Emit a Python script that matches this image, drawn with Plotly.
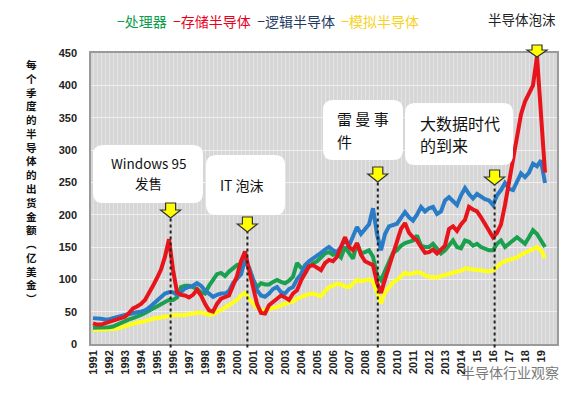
import plotly.graph_objects as go

# ---------------- data (quarterly, 1991Q1 .. 2019Q2) ----------------
start_year = 1991
processor = [  # green 处理器
    25, 25, 26, 25, 26, 27, 30, 33, 36, 38, 40, 42, 45, 48, 52, 55,
    58, 62, 65, 68, 68, 72, 88, 90, 90, 88, 85, 80, 78, 90, 100, 108,
    110, 105, 112, 117, 122, 124, 127, 118, 100, 88, 94, 92, 92, 96, 99, 96,
    94, 98, 104, 125, 118, 115, 120, 125, 128, 134, 140, 142, 138, 140, 134, 150,
    140, 132, 156, 140, 142, 145, 135, 106, 99, 112, 125, 141, 145, 152, 156, 158,
    160, 168, 152, 150, 150, 155, 148, 140, 145, 152, 160, 150, 148, 160, 158, 152,
    155, 150, 148, 145, 145, 155, 160, 150, 155, 161, 165, 160, 155, 165, 176, 170,
    160, 150]
memory = [  # red 存储半导体
    32, 30, 30, 32, 33, 35, 37, 40, 42, 48, 55, 58, 62, 68, 78, 90,
    102, 115, 135, 162, 115, 80, 76, 75, 72, 76, 84, 75, 62, 52, 50, 62,
    70, 72, 75, 90, 105, 128, 143, 115, 90, 62, 48, 47, 60, 65, 70, 75,
    72, 68, 78, 83, 98, 110, 120, 122, 118, 114, 125, 130, 128, 135, 150, 165,
    150, 145, 156, 138, 128, 125, 122, 95, 79, 100, 120, 135, 160, 178, 187, 172,
    165, 160, 150, 141, 142, 146, 140, 145, 152, 178, 182, 175, 185, 192, 212, 208,
    205, 196, 185, 176, 165, 172, 185, 215, 250, 284, 320, 355, 375, 388, 400, 445,
    350, 265]
logic = [  # blue 逻辑半导体
    40, 40, 39, 38, 38, 40, 42, 44, 45, 46, 48, 49, 50, 52, 56, 62,
    66, 72, 78, 80, 80, 76, 80, 86, 88, 90, 94, 90, 83, 78, 73, 76,
    78, 78, 82, 94, 100, 108, 130, 118, 100, 83, 75, 73, 78, 85, 88, 80,
    78, 85, 88, 100, 108, 122, 128, 132, 137, 141, 146, 150, 145, 142, 150, 161,
    152, 165, 181, 170, 178, 185, 210, 170, 145, 170, 182, 184, 186, 195, 204, 196,
    191, 200, 212, 205, 210, 212, 201, 205, 222, 227, 220, 215, 230, 241, 232, 225,
    232, 228, 224, 222, 215, 230, 238, 249, 240, 238, 250, 264, 258, 265, 279, 275,
    284, 249]
analog = [  # yellow 模拟半导体
    22, 22, 22, 22, 22, 23, 24, 26, 27, 29, 31, 33, 34, 35, 37, 39,
    40, 42, 43, 44, 45, 45, 44, 45, 45, 46, 48, 49, 47, 45, 46, 50,
    53, 56, 60, 64, 68, 75, 79, 70, 63, 56, 53, 52, 54, 55, 57, 60,
    62, 63, 66, 70, 73, 75, 77, 78, 76, 74, 82, 88, 90, 93, 92, 89,
    88, 93, 99, 97, 99, 100, 97, 78, 63, 80, 88, 95, 99, 104, 110, 108,
    110, 111, 110, 106, 104, 104, 103, 105, 107, 108, 110, 112, 113, 117, 116, 115,
    115, 114, 113, 112, 114, 120, 125, 128, 130, 132, 134, 138, 141, 145, 148, 150,
    145, 133]

tick_years = list(range(1991, 2020))
tick_labels = [str(y) for y in range(1991, 2015)] + ["15", "16", "17", "18", "19"]

event_x = [1995.85, 2000.65, 2008.8, 2016.1]
event_lines = [["Windows 95", "发售"], ["IT 泡沫"], ["雷 曼 事", "件"], ["大数据时代", "的到来"]]
bubble_x = 2018.75
bubble_text = "半导体泡沫"

legend_names = ["处理器", "存储半导体", "逻辑半导体", "模拟半导体"]
legend_colors = ["#0a9e4a", "#e8001c", "#1f3b63", "#f7d21e"]
ytitle = "每个季度的半导体的出货金额︵亿美金︶"

# ---------------- figure ----------------
# page pixel layout (the page body has an 8px default margin)
OFF = 8
PAGE_W, PAGE_H = 578, 399
L, R, T, B = 91, 21, 53, 55          # plot area in page pixels
PW, PH = PAGE_W - L - R, PAGE_H - T - B
W, H = PAGE_W - OFF, PAGE_H - OFF


def px(x):
    return (x - L) / PW


def py(y):
    return (PAGE_H - B - y) / PH


def qx(n):
    return [start_year + i / 4 for i in range(n)]


fig = go.Figure()
series = [
    (analog, "#ffff1a", "模拟半导体"),
    (processor, "#1aa04e", "处理器"),
    (logic, "#2a7cc6", "逻辑半导体"),
    (memory, "#e8141b", "存储半导体"),
]
for vals, col, name in series:
    fig.add_trace(go.Scatter(x=qx(len(vals)), y=vals, mode="lines", name=name,
                             line=dict(color=col, width=4), showlegend=False))

shapes = []
annotations = []


def rbox(x0, y0, x1, y1, r=10):
    X, Y = px, py
    return (f"M {X(x0 + r)},{Y(y0)} L {X(x1 - r)},{Y(y0)} Q {X(x1)},{Y(y0)} {X(x1)},{Y(y0 + r)} "
            f"L {X(x1)},{Y(y1 - r)} Q {X(x1)},{Y(y1)} {X(x1 - r)},{Y(y1)} "
            f"L {X(x0 + r)},{Y(y1)} Q {X(x0)},{Y(y1)} {X(x0)},{Y(y1 - r)} "
            f"L {X(x0)},{Y(y0 + r)} Q {X(x0)},{Y(y0)} {X(x0 + r)},{Y(y0)} Z")


boxes = [(93, 145, 203, 203), (206, 155, 285, 215), (323, 100, 403, 160), (405, 103, 513, 165)]
for b in boxes:
    shapes.append(dict(type="path", xref="paper", yref="paper", path=rbox(*b),
                       fillcolor="white", line=dict(width=0), layer="above"))

tips = [218, 232, 182, 185]
arrow_path = "M 0,0 L -10,8 L -5,8 L -5,15 L 5,15 L 5,8 L 10,8 Z"
small_arrow = "M 0,0 L -10,7 L -5,7 L -5,12 L 5,12 L 5,7 L 10,7 Z"
for ex, tip in zip(event_x, tips):
    shapes.append(dict(type="line", xref="x", yref="paper", x0=ex, x1=ex, y0=-0.012, y1=py(tip),
                       line=dict(color="#222222", width=2, dash="dot"), layer="above"))
    shapes.append(dict(type="path", xref="x", yref="paper", xsizemode="pixel", ysizemode="pixel",
                       xanchor=ex, yanchor=py(tip), path=arrow_path,
                       fillcolor="#ffff00", line=dict(color="#333333", width=1.2), layer="above"))
shapes.append(dict(type="path", xref="x", yref="paper", xsizemode="pixel", ysizemode="pixel",
                   xanchor=bubble_x, yanchor=py(57), path=small_arrow,
                   fillcolor="#ffff00", line=dict(color="#333333", width=1.2), layer="above"))

cjk = "Noto Sans CJK SC"
# (x, first-line y, line gap, anchor, font size) in page pixels
text_pos = [(148, 163, 20, "center", 13.5), (218, 185, 0, "left", 14),
            (335, 119, 22, "left", 15), (418, 123, 22, "left", 16)]
for (tx, ty, gap, anc, fs), lines in zip(text_pos, event_lines):
    for k, line in enumerate(lines):
        annotations.append(dict(xref="paper", yref="paper", x=px(tx), y=py(ty + k * gap), text=line,
                                showarrow=False, xanchor=anc, yanchor="middle",
                                font=dict(family=cjk, size=fs, color="#111111")))

annotations.append(dict(xref="paper", yref="paper", x=px(522), y=py(19), text=bubble_text, showarrow=False,
                        xanchor="center", yanchor="middle", font=dict(family=cjk, size=13.5, color="#222222")))

leg = "  ".join(f'<span style="color:{c}">−{n}</span>' for n, c in zip(legend_names, legend_colors))
annotations.append(dict(xref="paper", yref="paper", x=px(268), y=py(21), text=leg, showarrow=False,
                        xanchor="center", yanchor="middle", font=dict(family=cjk, size=14)))

annotations.append(dict(xref="paper", yref="paper", x=px(31), y=py(181), text="<br>".join(ytitle),
                        showarrow=False, xanchor="center", yanchor="middle", align="center",
                        font=dict(family=cjk, size=10.6, color="#111111", weight="bold")))

annotations.append(dict(xref="paper", yref="paper", x=px(510), y=py(372), text="半导体行业观察",
                        showarrow=False, xanchor="center", yanchor="middle",
                        font=dict(family=cjk, size=14, color="#7a7a7a")))

fig.update_layout(
    width=W, height=H, margin=dict(l=L - OFF, r=R, t=T - OFF, b=B),
    paper_bgcolor="white", plot_bgcolor="#d6d6d6",
    shapes=shapes, annotations=annotations, showlegend=False,
    xaxis=dict(range=[1990.875, 2020.0], tickmode="array", tickvals=tick_years, ticktext=tick_labels,
               tickangle=-90, tickfont=dict(family="Liberation Sans, Arial", size=11, color="#222222", weight="bold"),
               showgrid=True, gridcolor="#e4e4e4", gridwidth=1,
               minor=dict(tick0=1991, dtick=0.25, showgrid=True, gridcolor="#e4e4e4", gridwidth=1),
               showline=True, mirror=True, linecolor="#9a9a9a", linewidth=1.5, zeroline=False,
               ticks="", fixedrange=True),
    yaxis=dict(range=[0, 450], dtick=50, tickfont=dict(family="Liberation Sans, Arial", size=11, color="#222222", weight="bold"),
               showgrid=True, gridcolor="#efefef", gridwidth=1, ticklabelstandoff=10,
               showline=True, mirror=True, linecolor="#9a9a9a", linewidth=1.5, zeroline=False, ticks=""),
)

fig.write_html("out.html")
